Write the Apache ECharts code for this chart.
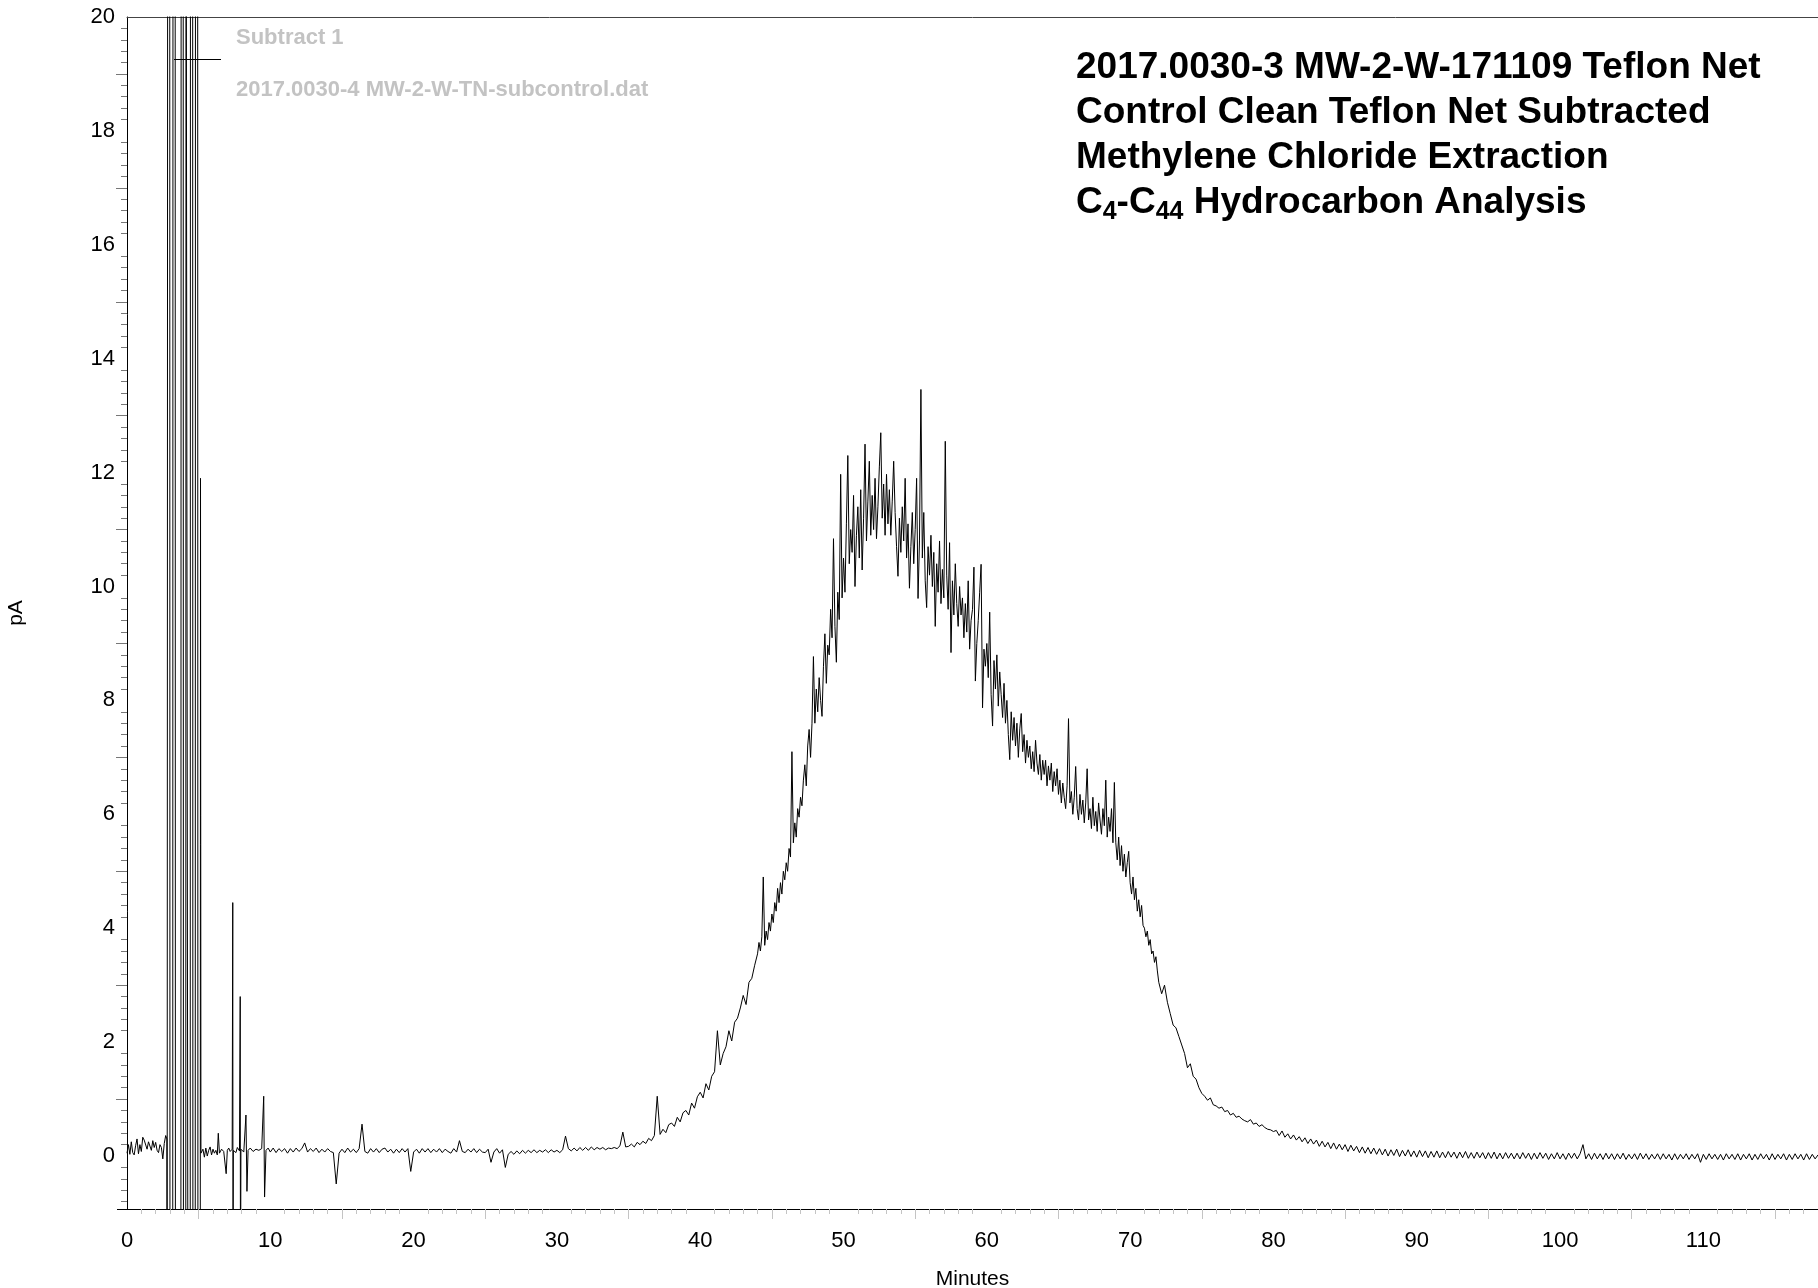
<!DOCTYPE html>
<html>
<head>
<meta charset="utf-8">
<title>Subtract 1</title>
<script src="https://cdn.jsdelivr.net/npm/echarts@6.0.0/dist/echarts.min.js"></script>
<style>
  html, body { margin: 0; padding: 0; background: #fff; }
  #chart { width: 1818px; height: 1288px; }
</style>
</head>
<body>
<div id="chart"></div>
<script>
const FONT = '"Liberation Sans", Arial, sans-serif';

// axis ranges and labels
const xMin = 0, xMax = 118;
const yMin = -0.93, yMax = 20;
const xTickLabels = [0, 10, 20, 30, 40, 50, 60, 70, 80, 90, 100, 110];
const yTickLabels = [0, 2, 4, 6, 8, 10, 12, 14, 16, 18, 20];
const xLongTicks = [5, 15, 25, 35, 45, 55, 65, 75, 85, 95, 105, 115];
const yLongTicks = [1, 3, 5, 7, 9, 11, 13, 15, 17, 19];

// 0-10 min: solvent front and early spikes, [minutes, pA]
const earlyTrace = [
  [0, 0.05], [0.1, 0.2], [0.2, 0.03], [0.3, 0.25], [0.4, 0.06], [0.5, 0.02], [0.6, 0.18],
  [0.7, 0.3], [0.8, 0.04], [0.9, 0.2], [1.0, 0.08], [1.1, 0.33], [1.2, 0.28], [1.3, 0.3],
  [1.4, 0.12], [1.5, 0.25], [1.6, 0.22], [1.7, 0.1], [1.8, 0.27], [1.9, 0.15], [2.0, 0.24],
  [2.1, 0.1], [2.2, 0.06], [2.3, 0.2], [2.4, 0.15], [2.5, -0.05], [2.6, 0.22], [2.7, 0.36],
  [2.78, 0.3], [2.8, -5], [2.84, 25], [2.98, 25], [3.0, -5], [3.19, -5], [3.21, 25],
  [3.36, 25], [3.38, -5], [3.76, -5], [3.78, 25], [3.92, 25], [3.94, -5], [4.1, -5],
  [4.12, 25], [4.24, 25], [4.26, -5], [4.41, -5], [4.43, 25], [4.58, 25], [4.6, -5],
  [4.76, -5], [4.78, 25], [4.93, 25], [4.95, -5], [5.11, -5], [5.13, 11.9], [5.16, 0.05],
  [5.3, 0.12], [5.4, -0.02], [5.5, 0.14], [5.6, 0.0], [5.7, 0.1], [5.8, 0.16], [5.9, 0.02],
  [6.0, 0.12], [6.1, 0.05], [6.2, 0.1], [6.3, 0.02], [6.37, 0.4], [6.45, 0.05], [6.6, 0.12],
  [6.75, 0.08], [6.92, -0.31], [7.0, 0.1], [7.1, 0.14], [7.2, 0.08], [7.34, 0.12],
  [7.38, 4.45], [7.4, -3], [7.42, 0.1], [7.6, 0.06], [7.7, 0.15], [7.85, 0.09], [7.9, 2.8],
  [7.92, -3], [7.95, 0.12], [8.15, 0.07], [8.3, 0.72], [8.37, -0.62], [8.45, 0.1], [8.6, 0.14],
  [8.8, 0.08], [9.0, 0.12], [9.2, 0.1], [9.4, 0.13], [9.54, 1.05], [9.6, -0.72], [9.7, 0.1],
  [9.85, 0.14]
];

// baseline 10.0-32.8 min, every 0.2 min
const baseStart = 10, baseStep = 0.2;
const baseline = [
  0.07, 0.14, 0.06, 0.13, 0.08,  0.13, 0.05, 0.13, 0.07, 0.14,
  0.08, 0.13, 0.23, 0.07, 0.13,  0.08, 0.14, 0.06, 0.12, 0.07,
  0.13, 0.08, 0.06, -0.49, 0.05, 0.12, 0.06, 0.14, 0.07, 0.12,
  0.06, 0.13, 0.56, 0.08, 0.05,  0.13, 0.07, 0.13, 0.06, 0.12,
  0.14, 0.07, 0.12, 0.05, 0.12,  0.06, 0.13, 0.07, 0.13, -0.27,
  0.07, 0.12, 0.05, 0.13, 0.07,  0.13, 0.06, 0.12, 0.07, 0.13,
  0.06, 0.12, 0.08, 0.05, 0.13,  0.07, 0.27, 0.08, 0.06, 0.12,
  0.07, 0.13, 0.06, 0.12, 0.07,  0.06, 0.12, -0.11, 0.07, 0.13,
  0.05, 0.11, -0.2, 0.03, 0.08,  0.03, 0.09, 0.04, 0.1, 0.05,
  0.1, 0.06, 0.11, 0.06, 0.1,    0.07, 0.11, 0.06, 0.11, 0.07,
  0.1, 0.06, 0.11, 0.35, 0.13,   0.09, 0.14, 0.09, 0.15, 0.1,
  0.15, 0.1, 0.16, 0.11, 0.15
];

// rising edge 33.0-43.8 min, every 0.2 min
const riseStart = 33, riseStep = 0.2;
const rise = [
  0.12, 0.15, 0.11, 0.14, 0.13,  0.15, 0.13, 0.18, 0.42, 0.16,
  0.17, 0.21, 0.16, 0.24, 0.2,   0.26, 0.22, 0.31, 0.27, 0.36,
  1.05, 0.38, 0.47, 0.41, 0.55,  0.58, 0.52, 0.68, 0.6, 0.76,
  0.8, 0.72, 0.93, 0.84, 1.04,   1.12, 1.02, 1.27, 1.16, 1.4,
  1.48, 2.2, 1.6, 1.8, 1.92,     2.2, 2.02, 2.35, 2.42, 2.6,
  2.82, 2.66, 3.05, 3.12, 3.35
];

// hump 44.0-72.0 min, every 0.1 min
const peakStart = 44, peakStep = 0.1;
const peak = [
  3.55, 3.75, 3.6, 3.85, 4.9, 3.7, 3.95, 3.8, 4.1, 3.95,
  4.25, 4.1, 4.45, 4.3, 4.7, 4.45, 4.8, 4.6, 5.0, 4.85,
  5.15, 5.0, 5.4, 5.25, 7.1, 5.5, 5.85, 5.6, 6.1, 5.95,
  6.3, 6.15, 6.6, 6.87, 6.5, 7.2, 7.49, 7.0, 7.6, 8.77,
  7.6, 8.2, 7.8, 8.4, 8.0, 7.72, 8.6, 9.17, 8.3, 8.97,
  8.8, 9.6, 9.1, 10.84, 9.3, 8.67, 9.9, 9.42, 11.97, 9.8,
  10.5, 9.9, 11.1, 12.3, 10.4, 11.0, 10.6, 11.6, 10.0, 10.9,
  11.4, 10.5, 11.7, 10.29, 11.2, 12.5, 10.8, 11.5, 12.2, 10.9,
  11.6, 11.0, 11.9, 10.84, 11.4, 12.1, 12.7, 11.2, 11.8, 10.9,
  11.97, 11.1, 11.7, 10.9, 11.5, 12.2, 11.3, 10.7, 10.18, 11.2,
  10.6, 11.4, 10.8, 11.9, 10.5, 11.1, 9.97, 10.7, 11.3, 10.4,
  11.0, 11.9, 9.79, 10.8, 13.46, 10.5, 11.3, 10.1, 9.63, 10.7,
  10.2, 10.9, 10.0, 10.6, 9.3, 10.4, 9.9, 10.8, 9.7, 10.3,
  9.8, 12.55, 10.2, 9.6, 10.77, 8.84, 10.1, 9.5, 10.4, 9.7,
  9.3, 10.0, 9.5, 9.8, 9.1, 9.7, 9.2, 10.1, 8.9, 9.4,
  9.6, 10.34, 8.34, 9.0, 9.4, 9.9, 10.39, 7.87, 8.9, 8.6,
  9.0, 8.4, 9.55, 8.1, 7.55, 8.7, 8.2, 8.8, 7.9, 8.5,
  8.1, 7.7, 8.3, 7.6, 8.0, 7.4, 6.96, 7.8, 7.3, 7.7,
  7.2, 7.6, 7.0, 7.5, 7.77, 7.1, 7.4, 6.9, 7.3, 7.0,
  7.2, 6.8, 7.1, 6.75, 7.3, 6.9, 6.7, 7.05, 6.6, 6.95,
  6.7, 6.95, 6.5, 6.85, 6.6, 6.9, 6.4, 6.75, 6.5, 6.8,
  6.35, 6.6, 6.2, 6.55, 6.3, 6.1, 6.5, 7.68, 6.2, 6.4,
  6.0, 6.3, 6.84, 6.1, 5.9, 6.35, 6.0, 6.25, 5.85, 6.2,
  6.8, 5.9, 6.1, 5.75, 6.3, 5.8, 6.05, 5.7, 6.2, 5.9,
  5.65, 6.1, 5.8, 6.6, 5.6, 5.95, 5.7, 6.1, 5.5, 6.56,
  5.5, 5.2, 5.6, 5.1, 5.45, 5.0, 5.3, 4.9, 5.15, 5.35,
  4.8, 4.6, 4.9, 4.5, 4.7, 4.3, 4.5, 4.2, 4.4, 4.05,
  4.0, 3.85, 3.95, 3.7, 3.8, 3.55, 3.6, 3.4, 3.5, 3.25,
  3.05
];

// falling edge 72.2-80.0 min, every 0.2 min
const fallStart = 72.2, fallStep = 0.2;
const fall = [
  2.85, 3.0, 2.7, 2.5,
  2.3, 2.25, 2.1, 1.95, 1.8,     1.55, 1.62, 1.4, 1.35, 1.2,
  1.1, 1.05, 0.98, 1.02, 0.9,    0.88, 0.84, 0.86, 0.78, 0.8,
  0.72, 0.75, 0.68, 0.7, 0.65,   0.62, 0.6, 0.64, 0.56, 0.58,
  0.52, 0.55, 0.5, 0.47, 0.46,   0.43
];

// tail 80.2-118.0 min, every 0.2 min
const tailStart = 80.2, tailStep = 0.2;
const tail = [
  0.45, 0.36, 0.44, 0.33,
  0.39, 0.3, 0.37, 0.28, 0.34,   0.25, 0.32, 0.22, 0.3, 0.21,
  0.28, 0.17, 0.26, 0.16, 0.24,  0.13, 0.23, 0.12, 0.21, 0.11,
  0.2, 0.08, 0.19, 0.09, 0.17,   0.06, 0.16, 0.05, 0.15, 0.04,
  0.14, 0.03, 0.13, 0.02, 0.12,  0.0, 0.11, 0.01, 0.12, -0.01,
  0.1, 0.0, 0.11, -0.01, 0.09,   -0.02, 0.1, -0.01, 0.09, -0.03,
  0.08, -0.02, 0.09, -0.03, 0.07, -0.03, 0.08, -0.02, 0.07, -0.04,
  0.07, -0.03, 0.08, -0.04, 0.06, -0.04, 0.07, -0.03, 0.06, -0.05,
  0.06, -0.04, 0.07, -0.05, 0.05, -0.05, 0.06, -0.04, 0.05, -0.05,
  0.05, -0.05, 0.06, -0.04, 0.05, -0.06, 0.05, -0.05, 0.06, -0.04,
  0.05, -0.06, 0.04, -0.05, 0.06, -0.05, 0.04, -0.06, 0.05, -0.04,
  0.05, -0.05, 0.04, 0.2, -0.05, 0.04, -0.06, 0.05, -0.05, 0.04,
  -0.06, 0.05, -0.05, 0.04, -0.06, 0.04, -0.05, 0.05, -0.06, 0.03,
  -0.05, 0.04, -0.06, 0.05, -0.05, 0.04, -0.06, 0.03, -0.05, 0.04,
  -0.06, 0.04, -0.05, 0.03, -0.07, 0.04, -0.06, 0.03, -0.05, 0.04,
  -0.06, 0.03, -0.05, 0.04, -0.11, 0.03, -0.06, 0.04, -0.05, 0.03,
  -0.06, 0.03, -0.07, 0.04, -0.05, 0.03, -0.06, 0.04, -0.07, 0.03,
  -0.05, 0.04, -0.07, 0.03, -0.06, 0.04, -0.05, 0.03, -0.07, 0.04,
  -0.06, 0.03, -0.05, 0.04, -0.07, 0.03, -0.06, 0.04, -0.05, 0.03,
  -0.07, 0.04, -0.06, 0.03, -0.05, 0.02
];

const sampled = (start, step, values) =>
  values.map((v, i) => [+(start + i * step).toFixed(2), v]);

const trace = earlyTrace
  .concat(sampled(baseStart, baseStep, baseline))
  .concat(sampled(riseStart, riseStep, rise))
  .concat(sampled(peakStart, peakStep, peak))
  .concat(sampled(fallStart, fallStep, fall))
  .concat(sampled(tailStart, tailStep, tail));

// short ticks: every minute / every 0.2 pA, skipping the longer ones
const xShortTicks = [];
for (let m = 1; m < xMax; m++) if (m % 5) xShortTicks.push(m);
const yShortTicks = [];
for (let k = -4; k <= 100; k++) if (k % 5 !== 0) yShortTicks.push(+(k * 0.2).toFixed(1));

const chart = echarts.init(document.getElementById('chart'));
chart.setOption({
  animation: false,
  backgroundColor: '#fff',
  textStyle: { fontFamily: FONT },
  title: {
    left: 1076,
    top: 45,
    padding: 0,
    text: '2017.0030-3 MW-2-W-171109 Teflon Net\nControl Clean Teflon Net Subtracted\nMethylene Chloride Extraction\nC{sub|4}-C{sub|44} Hydrocarbon Analysis',
    textStyle: {
      fontFamily: FONT,
      fontSize: 37,
      fontWeight: 'bold',
      color: '#000',
      lineHeight: 45,
      rich: {
        sub: { fontFamily: FONT, fontSize: 25, fontWeight: 'bold', color: '#000', lineHeight: 20, verticalAlign: 'bottom' }
      }
    }
  },
  graphic: [
    {
      type: 'text', left: 236, top: 27, z: 10,
      style: { text: 'Subtract 1', font: 'bold 22px ' + FONT, fill: '#c3c3c3' }
    },
    {
      type: 'text', left: 236, top: 79, z: 10,
      style: { text: '2017.0030-4 MW-2-W-TN-subcontrol.dat', font: 'bold 22px ' + FONT, fill: '#c3c3c3' }
    },
    {
      type: 'line', z: 10,
      shape: { x1: 174, y1: 59.5, x2: 221, y2: 59.5 },
      style: { stroke: '#000', lineWidth: 1 }
    },
    {
      // x axis line runs a little past the y axis
      type: 'line', z: 10,
      shape: { x1: 117, y1: 1209.5, x2: 128, y2: 1209.5 },
      style: { stroke: '#000', lineWidth: 1 }
    }
  ],
  grid: { left: 127, right: 0, top: 17, bottom: 79, containLabel: false, outerBoundsMode: 'none' },
  xAxis: [
    {
      type: 'value', min: xMin, max: xMax, position: 'bottom',
      name: 'Minutes', nameLocation: 'middle', nameGap: 60,
      nameTextStyle: { fontFamily: FONT, fontSize: 21, color: '#000' },
      axisLine: { show: true, onZero: false, lineStyle: { color: '#000', width: 1 } },
      axisTick: { show: true, customValues: xShortTicks, length: 5, lineStyle: { color: '#c4c4c4' } },
      axisLabel: { customValues: xTickLabels, fontFamily: FONT, fontSize: 22, color: '#000', margin: 21 },
      splitLine: { show: false }
    },
    {
      type: 'value', min: xMin, max: xMax, position: 'bottom',
      axisLine: { show: false, onZero: false },
      axisTick: { show: true, customValues: xLongTicks, length: 10, lineStyle: { color: '#c4c4c4' } },
      axisLabel: { show: false },
      splitLine: { show: false }
    },
    {
      type: 'value', min: xMin, max: xMax, position: 'top',
      axisLine: { show: true, onZero: false, lineStyle: { color: '#444', width: 1 } },
      axisTick: { show: false },
      axisLabel: { show: false },
      splitLine: { show: false }
    }
  ],
  yAxis: [
    {
      type: 'value', min: yMin, max: yMax, position: 'left',
      name: 'pA', nameLocation: 'middle', nameGap: 100,
      nameTextStyle: { fontFamily: FONT, fontSize: 21, color: '#000' },
      axisLine: { show: true, onZero: false, lineStyle: { color: '#000', width: 1 } },
      axisTick: { show: true, customValues: yShortTicks, length: 6, lineStyle: { color: '#777' } },
      axisLabel: {
        customValues: yTickLabels, fontFamily: FONT, fontSize: 22, color: '#000', margin: 12,
        padding: [9, 0, 0, 0]
      },
      splitLine: { show: false }
    },
    {
      type: 'value', min: yMin, max: yMax, position: 'left',
      axisLine: { show: false, onZero: false },
      axisTick: { show: true, customValues: yLongTicks, length: 11, lineStyle: { color: '#777' } },
      axisLabel: { show: false },
      splitLine: { show: false }
    }
  ],
  series: [
    {
      name: 'Subtract 1',
      type: 'line',
      xAxisIndex: 0,
      yAxisIndex: 0,
      data: trace,
      symbol: 'none',
      showSymbol: false,
      clip: true,
      lineStyle: { color: '#000', width: 1 },
      z: 3
    }
  ]
});
</script>
</body>
</html>
